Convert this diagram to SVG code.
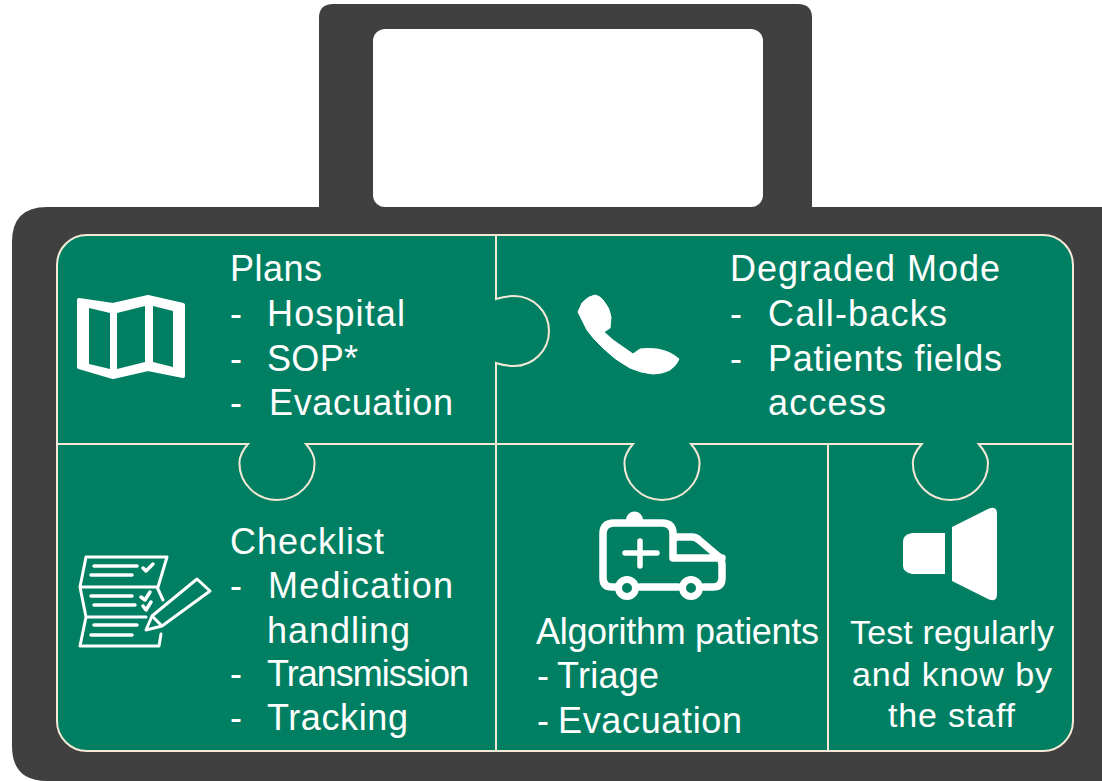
<svg xmlns="http://www.w3.org/2000/svg" width="1102" height="781" viewBox="0 0 1102 781">
<style>
text{font-family:"Liberation Sans",Arial,sans-serif;font-size:36px;fill:#fff}
.s{font-size:34px}
.seam{fill:none;stroke:#f6e8d6;stroke-width:2}
.ico{fill:none;stroke:#fff;stroke-linecap:round;stroke-linejoin:round}
.solid{fill:#fff;stroke:#fff;stroke-linejoin:round}
</style>
<rect width="1102" height="781" fill="#fff"/>
<g id="case">
<path d="M319,207V18Q319,4 333,4H798Q812,4 812,18V207H1102V781H47Q12,781 12,746V242Q12,207 47,207Z" fill="#404040"/>
<rect x="373" y="29" width="390" height="178" rx="12" fill="#fff"/>
</g>
<g id="panel">
<rect x="57" y="235" width="1016" height="516" rx="30" fill="#007f63"/>
</g>
<g id="connectors">
<rect class="seam" x="57" y="235" width="1016" height="516" rx="30"/>
<path class="seam" d="M496,235V299C502,297 508,296 514,296A35,35 0 0 1 514,366C508,366 502,365 496,363V751"/>
<path class="seam" d="M57,444H248C241,452 239.400,458 239.400,463A37.600,37 0 0 0 314.600,463C314.600,458 313,452 306,444H633C626,452 624.400,458 624.400,463A37.600,37 0 0 0 699.600,463C699.600,458 698,452 691,444H921.700C915,452 912.800,458 912.800,463A37.600,37 0 0 0 988,463C988,458 985.500,452 978.700,444H1073"/>
<path class="seam" d="M828,444V751"/>
</g>
<g id="node-plans">
<path fill="#fff" stroke="#fff" stroke-width="4" stroke-linejoin="round" d="M79,300L113,305L148,297L183,305V376L148,369L113,377L79,367Z"/>
<path fill="#007f63" d="M89,308L110,313V369L89,364ZM117,313L145,306V362L117,369ZM153,306L173,311V367L153,362Z"/>
<text x="230" y="281" textLength="92">Plans</text>
<text x="230" y="326">-</text><text x="267" y="326" textLength="138">Hospital</text>
<text x="230" y="371">-</text><text x="267" y="371" textLength="91">SOP*</text>
<text x="230" y="415">-</text><text x="269" y="415" textLength="184">Evacuation</text>
</g>
<g id="node-degraded">
<path class="solid" stroke-width="1" d="M578,312L582,303Q588,296 595,295Q600,296 603,300Q610,308 611,317L610,328L604,332L613,340L633,354L640,349Q648,348 657,349Q670,351 679,359Q677,365 670,370Q662,374 653,374Q641,373 630,368Q615,360 603,348Q594,340 587,330Z"/>
<text x="730" y="281" textLength="270">Degraded Mode</text>
<text x="730" y="326">-</text><text x="768" y="326" textLength="179">Call-backs</text>
<text x="730" y="371">-</text><text x="768" y="371" textLength="234">Patients fields</text>
<text x="768" y="415" textLength="118">access</text>
</g>
<g id="node-checklist">
<path class="ico" stroke-width="3" d="M167,557H86L80,587H157L163,600M80,587L86,617H146M86,617L80,646H159L161,634M167,557L158,587"/>
<path class="ico" stroke-width="3.500" d="M94,566H137M91,575H132M91,596H132M94,605H135M94,625H137M91,635H132M143,568L146,571L153,564M141,597L145,600L150,592M143,606L146,610L151,602"/>
<path class="ico" stroke-width="3" d="M146,630L152,616L197,579L210,591L162,626ZM152,616L162,626"/>
<text x="230" y="554" textLength="154">Checklist</text>
<text x="230" y="598">-</text><text x="268" y="598" textLength="185">Medication</text>
<text x="267" y="643" textLength="143">handling</text>
<text x="230" y="686">-</text><text x="267" y="686" textLength="202">Transmission</text>
<text x="230" y="730">-</text><text x="267" y="730" textLength="141">Tracking</text>
</g>
<g id="node-algorithm">
<path fill="#fff" d="M626,520A8.500,8.500 0 0 1 643,520Z"/>
<path class="ico" stroke-width="7.500" d="M616,587H612Q603,587 603,578V534Q603,523 614,523H662Q673,523 673,534V558H722M673,537H692Q696,537 699,540L718,556Q722,560 722,565V578Q722,587 713,587H704M640,587H678"/>
<circle cx="627" cy="588" r="8.500" fill="#007f63" stroke="#fff" stroke-width="7"/>
<circle cx="691" cy="588" r="8.500" fill="#007f63" stroke="#fff" stroke-width="7"/>
<path class="ico" stroke-width="5.500" d="M640,541V566M625,553H657"/>
<text x="536" y="644" textLength="283">Algorithm patients</text>
<text x="537" y="688">-</text><text x="557" y="688" textLength="102">Triage</text>
<text x="537" y="733">-</text><text x="558" y="733" textLength="184">Evacuation</text>
</g>
<g id="node-test">
<path fill="#fff" d="M912,533H945V574H912Q903,572 903,566V541Q903,535 912,533Z"/>
<path fill="#fff" d="M952,527L988,509Q997,505 997,514V594Q997,603 988,599L952,581Z"/>
<text class="s" x="850" y="644" textLength="204">Test regularly</text>
<text class="s" x="852" y="686" textLength="200">and know by</text>
<text class="s" x="888" y="727" textLength="127">the staff</text>
</g>
</svg>
